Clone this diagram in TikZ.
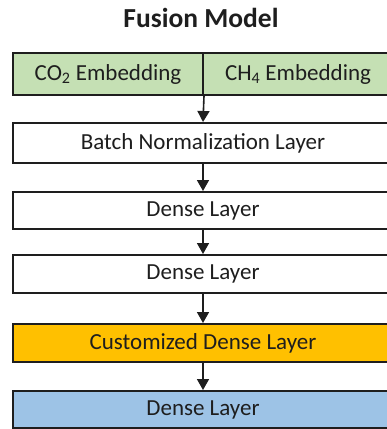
\documentclass[tikz,border=0pt]{standalone}
\usepackage{fontspec}
\setmainfont{Carlito}
\usepackage{xcolor}
\usetikzlibrary{arrows.meta}
\definecolor{embgreen}{RGB}{197,224,180}
\definecolor{custorange}{RGB}{255,192,0}
\definecolor{outblue}{RGB}{157,195,230}
\definecolor{ink}{RGB}{30,30,30}

\begin{document}
\begin{tikzpicture}[x=1pt, y=-1pt,
	layer/.style={draw=ink, line width=2pt, inner sep=0pt, minimum width=380pt,
		text=ink, font=\fontsize{23}{27}\selectfont},
	flow/.style={-{Triangle[width=12pt,length=11pt]}, line width=1.6pt, draw=ink}]
			\useasboundingbox (0,0) rectangle (387,429);
			\clip (0,0) rectangle (387,429);
			% заголовок
			\node [font=\bfseries\fontsize{27.5}{32}\selectfont, text=ink] (title) at (201,18) {Fusion Model};
			% слои
			\node [layer, fill=embgreen, minimum width=190pt, minimum height=42pt] (co2) at (108,74) {CO\textsubscript{2} Embedding};
			\node [layer, fill=embgreen, minimum width=190pt, minimum height=42pt] (ch4) at (298,74) {CH\textsubscript{4} Embedding};
			\node [layer, fill=white, minimum height=40pt] (batch) at (203,143) {Batch Normalization Layer};
			\node [layer, fill=white, minimum height=37pt] (dense1) at (203,210.5) {Dense Layer};
			\node [layer, fill=white, minimum height=38pt] (dense2) at (203,274) {Dense Layer};
			\node [layer, fill=custorange, minimum height=38pt] (custom) at (203,343) {Customized Dense Layer};
			\node [layer, fill=outblue, minimum height=37pt] (out) at (203,409.5) {Dense Layer};
			% стрелки
			\draw [flow] (co2.south east) -- (batch.north);
			\draw [flow] (batch) -- (dense1);
			\draw [flow] (dense1) -- (dense2);
			\draw [flow] (dense2) -- (custom);
			\draw [flow] (custom) -- (out);
\end{tikzpicture}
\end{document}
